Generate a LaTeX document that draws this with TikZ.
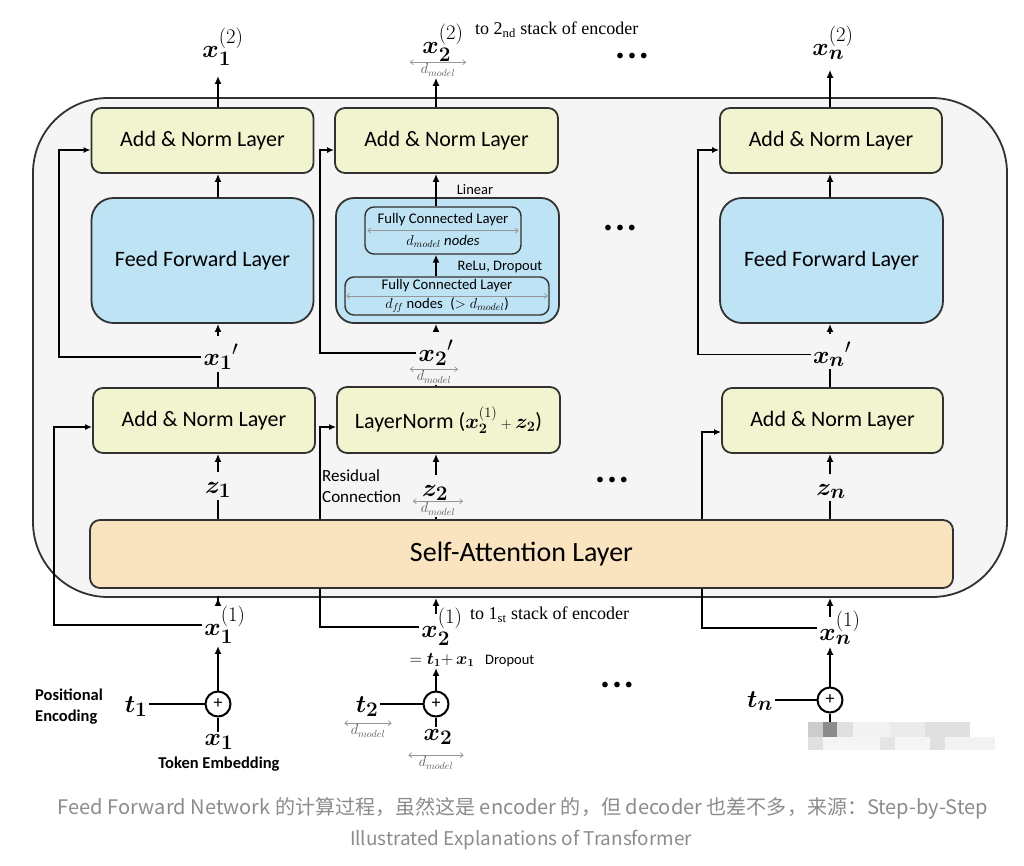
\documentclass[tikz,border=0pt]{standalone}
\usepackage{amsmath}
\usepackage{bm}
\usepackage{graphicx}
\usepackage{fontspec}
\setmainfont{Carlito}
\newfontfamily\cjkfont{Noto Sans CJK SC}
\newfontfamily\serifont{Liberation Serif}
\usetikzlibrary{arrows.meta}
\pgfdeclarelayer{encl}
\pgfdeclarelayer{resl}
\pgfsetlayers{encl,resl,main}
\definecolor{anfill}{RGB}{242,244,208}
\definecolor{fffill}{RGB}{190,227,244}
\definecolor{safill}{RGB}{250,228,192}
\definecolor{encfill}{RGB}{245,245,245}
\definecolor{bord}{RGB}{50,50,50}
\definecolor{capgray}{RGB}{140,140,140}
\definecolor{dmgray}{RGB}{150,150,150}
\definecolor{dmtext}{RGB}{90,90,90}
\begin{document}
\begin{tikzpicture}[x=1pt,y=-1pt,
  box/.style={draw=bord,line width=1.8pt,rounded corners=10pt,inner sep=0pt,align=center},
  anbox/.style={box,fill=anfill,minimum width=222pt,minimum height=65pt,font=\fontsize{22}{26}\selectfont},
  ffbox/.style={box,fill=fffill,rounded corners=22pt,minimum width=222pt,minimum height=125pt,font=\fontsize{22}{26}\selectfont},
  fcbox/.style={box,fill=fffill,rounded corners=9pt,line width=1.4pt,font=\fontsize{14.7}{22}\selectfont},
  sabox/.style={box,fill=safill,minimum width=863pt,minimum height=68pt,font=\fontsize{28}{32}\selectfont},
  arw/.style={line width=2pt,-{Latex[length=8pt,width=7pt]}},
  lnw/.style={line width=2pt},
  resw/.style={line width=1.8pt,-{Latex[length=7pt,width=6pt]}},
  mlab/.style={font=\fontsize{30}{32}\selectfont,inner sep=2pt},
  dmlab/.style={font=\fontsize{14}{14}\selectfont,text=dmtext,inner xsep=0pt,inner ysep=1.5pt},
  dimarr/.style={draw=dmgray,line width=0.7pt,{Straight Barb[length=3pt,width=5pt]}-{Straight Barb[length=3pt,width=5pt]}},
  small/.style={font=\fontsize{14.5}{17}\selectfont,inner sep=1pt},
  dots/.style={font=\fontsize{16}{16}\selectfont,inner sep=0pt},
  captext/.style={font=\cjkfont\fontsize{19}{22}\selectfont,text=capgray,inner sep=0pt}
]
\useasboundingbox (0,0) rectangle (1024,865);
\begin{pgfonlayer}{encl}
\fill[white] (0,0) rectangle (1024,865);
\node[draw=bord,line width=1.8pt,fill=encfill,rounded corners=75pt,minimum width=974pt,minimum height=499pt,inner sep=0pt] (enc) at (520,347.5) {};
\end{pgfonlayer}

% boxes
\node[anbox] (anT1) at (202.5,140.5) {Add \& Norm Layer};
\node[anbox,minimum width=223pt] (anT2) at (446.5,140.5) {Add \& Norm Layer};
\node[anbox] (anT3) at (831,140.5) {Add \& Norm Layer};
\node[ffbox] (ff1) at (202.5,260.5) {Feed Forward Layer};
\node[box,fill=fffill,rounded corners=18pt,minimum width=223pt,minimum height=125pt] (ffc) at (447.5,260.5) {};
\node[fcbox,minimum width=156pt,minimum height=47pt] (fc1) at (443,230.5) {Fully Connected Layer\\ $d_{model}$ \textit{nodes}};
\node[fcbox,minimum width=204pt,minimum height=38pt,font=\fontsize{14.7}{19}\selectfont] (fc2) at (447,296) {Fully Connected Layer\\ $d_{f\!f}$ nodes \;($>d_{model}$)};
\node[ffbox,minimum width=223pt] (ff3) at (831.5,260.5) {Feed Forward Layer};
\node[anbox] (an1) at (204,420.5) {Add \& Norm Layer};
\node[anbox,minimum width=223pt,minimum height=66pt] (ln2) at (448.5,420) {LayerNorm ($\bm{x}_{\bm 2}^{(1)}\,{\scriptstyle +}\,\bm{z}_{\bm 2}$)};
\node[anbox,minimum width=221pt] (an3) at (832.5,420.5) {Add \& Norm Layer};
\node[sabox] (sa) at (521.5,554) {Self-Attention Layer};

\draw[dimarr] ([xshift=3pt]fc1.west) -- ([xshift=-3pt]fc1.east);
\draw[dimarr] ([xshift=2pt]fc2.west) -- ([xshift=-2pt]fc2.east);

% circles
\node[circle,draw=black,line width=2pt,minimum size=25pt,inner sep=0pt,font=\fontsize{18}{18}\selectfont] (o1) at (218,704) {+};
\node[circle,draw=black,line width=2pt,minimum size=25pt,inner sep=0pt,font=\fontsize{18}{18}\selectfont] (o2) at (436,704) {+};
\node[circle,draw=black,line width=2pt,minimum size=25pt,inner sep=0pt,font=\fontsize{18}{18}\selectfont] (o3) at (830,700) {+};
\coordinate (o3b) at (830,722);

% math labels
\node[mlab,anchor=base] (x1o) at (223,57) {$\bm{x}_{\bm 1}^{(2)}$};
\node[mlab,anchor=base] (x2o) at (443,53) {$\bm{x}_{\bm 2}^{(2)}$};
\node[mlab,anchor=base] (x3o) at (833,55) {$\bm{x}_{\bm n}^{(2)}$};
\node[mlab,anchor=base] (x1p) at (221,365) {${\bm{x}_{\bm 1}}'$};
\node[mlab,anchor=base] (x2p) at (436,361) {${\bm{x}_{\bm 2}}'$};
\node[mlab,anchor=base] (x3p) at (832,363) {${\bm{x}_{\bm n}}'$};
\node[mlab,anchor=base] (z1) at (218,493) {$\bm{z}_{\bm 1}$};
\node[mlab,anchor=base] (z2) at (435,496) {$\bm{z}_{\bm 2}$};
\node[mlab,anchor=base] (zn) at (831,495) {$\bm{z}_{\bm n}$};
\node[mlab,anchor=base] (x1i) at (225,635) {$\bm{x}_{\bm 1}^{(1)}$};
\node[mlab,anchor=base] (x2i) at (442,637) {$\bm{x}_{\bm 2}^{(1)}$};
\node[mlab,anchor=base] (xni) at (840,640) {$\bm{x}_{\bm n}^{(1)}$};
\node[mlab,anchor=base] (t1) at (136,712) {$\bm{t}_{\bm 1}$};
\node[mlab,anchor=base] (t2) at (367,712) {$\bm{t}_{\bm 2}$};
\node[mlab,anchor=base] (tn) at (760,707) {$\bm{t}_{\bm n}$};
\node[mlab,anchor=base] (x1b) at (219,745) {$\bm{x}_{\bm 1}$};
\node[mlab,anchor=base] (x2b) at (438,740) {$\bm{x}_{\bm 2}$};

% d_model labels
\node[dmlab,minimum width=56pt] (dmo) at (438,70) {$d_{model}$};
\node[dmlab,minimum width=48pt] (dmp) at (434,377) {$d_{model}$};
\node[dmlab,minimum width=50pt] (dmz) at (438,509) {$d_{model}$};
\node[dmlab,minimum width=47pt] (dmt) at (368,731) {$d_{model}$};
\node[dmlab,minimum width=55pt] (dmx) at (436,763) {$d_{model}$};
\foreach \n in {dmo,dmp,dmz,dmt,dmx}{\draw[dimarr] (\n.north west) -- (\n.north east);}

% text labels
\node[font=\serifont\fontsize{18}{20}\selectfont,anchor=west,inner sep=0pt] (to2) at (475,30) {to 2\textsubscript{nd} stack of encoder};
\node[font=\serifont\fontsize{18}{20}\selectfont,anchor=west,inner sep=0pt] (to1) at (470,615) {to 1\textsubscript{st} stack of encoder};
\node[small] (lin) at (475,190) {Linear};
\node[small] (relu) at (500,267) {ReLu, Dropout};
\node[font=\fontsize{17}{21}\selectfont,align=left,anchor=west,inner sep=0pt] (rc) at (322,486) {Residual\\Connection};
\node[font=\fontsize{16}{16}\selectfont,inner sep=1pt] (eq) at (442,660) {$=\bm{t}_{\bm 1}{+}\,\bm{x}_{\bm 1}$};
\node[small,anchor=west] (drop) at (484,661) {Dropout};
\node[font=\bfseries\fontsize{16.5}{21}\selectfont,align=left,anchor=west,inner sep=0pt] (pe) at (35,707) {Positional\\Encoding};
\node[font=\bfseries\fontsize{16.5}{20}\selectfont,inner sep=0pt] (te) at (219,764) {Token Embedding};
\node[dots] (d1) at (632,57) {\textbullet\hspace{4pt}\textbullet\hspace{4pt}\textbullet};
\node[dots] (d2) at (620,229) {\textbullet\hspace{4pt}\textbullet\hspace{4pt}\textbullet};
\node[dots] (d3) at (612,481) {\textbullet\hspace{4pt}\textbullet\hspace{4pt}\textbullet};
\node[dots] (d4) at (617,686) {\textbullet\hspace{4pt}\textbullet\hspace{4pt}\textbullet};

% column 1
\draw[arw,shorten >=8pt] (anT1.north -| o1) -- (o1 |- x1o.south);
\draw[arw] (ff1.north -| o1) -- (anT1.south -| o1);
\draw[arw,shorten <=6pt] (o1 |- x1p.north) -- (ff1.south -| o1);
\draw[lnw] (an1.north -| o1) -- (o1 |- x1p.south);
\draw[arw,shorten <=8pt] (o1 |- z1.north) -- (an1.south -| o1);
\draw[lnw] (sa.north -| o1) -- (o1 |- z1.south);
\draw[arw,shorten <=-8pt] (o1 |- x1i.north) -- (enc.south -| o1);
\draw[arw] (o1.north) -- (o1 |- x1i.south);
\draw[lnw] (o1.west -| t1.east) -- (o1.west);
\draw[lnw] (o1.south) -- (o1 |- x1b.north);
% column 2
\draw[arw] (anT2.north -| o2) -- (o2 |- dmo.south);
\draw[arw] (fc1.north -| o2) -- (anT2.south -| o2);
\draw[arw] (fc2.north -| o2) -- (fc1.south -| o2);
\draw[arw,shorten <=6pt] (o2 |- x2p.north) -- (ffc.south -| o2);
\draw[lnw] (ln2.north -| o2) -- (o2 |- dmp.south);
\draw[arw,shorten <=8pt] (o2 |- z2.north) -- (ln2.south -| o2);
\draw[lnw] (sa.north -| o2) -- (o2 |- dmz.south);
\draw[arw,shorten <=-8pt] (o2 |- x2i.north) -- (enc.south -| o2);
\draw[arw] (o2.north) -- (o2 |- eq.south);
\draw[lnw] (o2.west -| t2.east) -- (o2.west);
\draw[lnw] (o2.south) -- (o2 |- x2b.north);
% column 3
\draw[arw,shorten >=8pt] (anT3.north -| o3) -- (o3 |- x3o.south);
\draw[arw] (ff3.north -| o3) -- (anT3.south -| o3);
\draw[arw,shorten <=6pt] (o3 |- x3p.north) -- (ff3.south -| o3);
\draw[lnw] (an3.north -| o3) -- (o3 |- x3p.south);
\draw[arw,shorten <=8pt] (o3 |- zn.north) -- (an3.south -| o3);
\draw[lnw] (sa.north -| o3) -- (o3 |- zn.south);
\draw[arw,shorten <=-8pt] (o3 |- xni.north) -- (enc.south -| o3);
\draw[arw] (o3.north) -- (o3 |- xni.south);
\draw[lnw] (o3.west -| tn.east) -- (o3.west);
\draw[lnw] (o3.south) -- (o3b);

% residual connections
\coordinate (k1a) at (59,0);
\coordinate (k1b) at (54,0);
\coordinate (k2) at (320,0);
\coordinate (k3a) at (698,0);
\coordinate (k3b) at (702,0);
\begin{pgfonlayer}{resl}
\draw[resw] (x1p.west) -- (x1p.west -| k1a) |- ([yshift=-9.5pt]anT1.west);
\draw[resw] (x1i.west) -- (x1i.west -| k1b) |- ([yshift=-6.5pt]an1.west);
\draw[resw] (x2p.west) -- (x2p.west -| k2) |- ([yshift=-9.5pt]anT2.west);
\draw[resw] (x2i.west) -- (x2i.west -| k2) |- ([yshift=-7pt]ln2.west);
\draw[resw] (x3p.west) -- (x3p.west -| k3a) |- ([yshift=-9.5pt]anT3.west);
\draw[resw] (xni.west) -- (xni.west -| k3b) |- ([yshift=-11.5pt]an3.west);
\end{pgfonlayer}

% blurred watermark patch
\fill[black!20] (808,722) rectangle (823,737);
\fill[black!45] (823,722) rectangle (837,737);
\fill[black!12] (837,722) rectangle (853,737);
\fill[black!5] (853,722) rectangle (890,737);
\fill[black!8] (890,722) rectangle (925,737);
\fill[black!12] (925,722) rectangle (970,737);
\fill[black!12] (808,737) rectangle (823,750);
\fill[black!4] (823,737) rectangle (880,750);
\fill[black!10] (880,737) rectangle (895,750);
\fill[black!4] (895,737) rectangle (930,750);
\fill[black!12] (930,737) rectangle (945,750);
\fill[black!5] (945,737) rectangle (995,750);

% caption
\node[captext] (cap1) at (523,808) {\resizebox{930pt}{!}{Feed Forward Network 的计算过程，虽然这是 encoder 的，但 decoder 也差不多，来源：Step-by-Step}};
\node[captext] (cap2) at (521,840) {\resizebox{342pt}{!}{Illustrated Explanations of Transformer}};
\end{tikzpicture}
\end{document}
